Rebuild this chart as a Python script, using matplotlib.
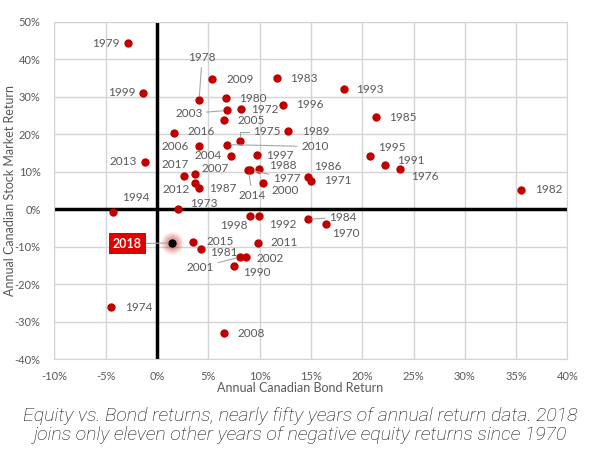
import matplotlib
matplotlib.use("Agg")
import matplotlib.pyplot as plt
import numpy as np

plt.rcParams['font.family'] = ['Lato', 'DejaVu Sans']

# Annual returns (%)
years = [1970, 1971, 1972, 1973, 1974, 1975, 1976, 1977, 1978, 1979,
         1980, 1981, 1982, 1983, 1984, 1985, 1986, 1987, 1988, 1989,
         1990, 1991, 1992, 1993, 1994, 1995, 1996, 1997, 1998, 1999,
         2000, 2001, 2002, 2003, 2004, 2005, 2006, 2007, 2008, 2009,
         2010, 2011, 2012, 2013, 2014, 2015, 2016, 2017, 2018]
bond_ret = [16.5, 15.0, 8.2, 2.0, -4.5, 8.1, 23.7, 9.1, 4.1, -2.8,
            6.7, 4.3, 35.5, 11.7, 14.7, 21.3, 14.7, 4.1, 9.9, 12.8,
            7.5, 22.2, 9.9, 18.2, -4.3, 20.8, 12.3, 9.7, 9.1, -1.4,
            10.3, 8.1, 8.7, 6.8, 7.2, 6.5, 4.1, 3.7, 6.5, 5.4,
            6.8, 9.8, 3.7, -1.2, 8.9, 3.5, 1.7, 2.6, 1.5]
stock_ret = [-3.9, 7.7, 26.8, 0.1, -26.1, 18.3, 10.7, 10.5, 29.2, 44.3,
             29.6, -10.5, 5.2, 35.0, -2.6, 24.7, 8.6, 5.8, 10.7, 20.9,
             -15.0, 11.8, -1.7, 32.1, -0.6, 14.3, 27.9, 14.5, -1.7, 31.1,
             7.0, -12.7, -12.7, 26.4, 14.3, 23.9, 16.9, 9.5, -33.0, 34.7,
             17.3, -8.9, 7.0, 12.7, 10.5, -8.6, 20.5, 8.9, -8.9]

x_ticks = [-10, -5, 0, 5, 10, 15, 20, 25, 30, 35, 40]
y_ticks = [-40, -30, -20, -10, 0, 10, 20, 30, 40, 50]

# label offsets in pixels from each dot (layout only)
label_offsets = {
    1970: (20, -9), 1971: (27, 0), 1972: (24, -1), 1973: (26, 6), 1974: (28, 0),
    1975: (27, 9), 1976: (25, -7), 1977: (36, -8), 1978: (3, 42), 1979: (-22, 0),
    1980: (27, 0), 1981: (23, -4), 1982: (27, 0), 1983: (27, 0), 1984: (35, 2),
    1985: (27, -1), 1986: (20, 11), 1987: (24, -1), 1988: (24, 4), 1989: (27, 0),
    1990: (23, -7), 1991: (26, 5), 1992: (24, -9), 1993: (26, 0), 1994: (23, 14),
    1995: (21, 8), 1996: (27, 0), 1997: (23, 0), 1998: (-17, -10), 1999: (-21, 0),
    2000: (22, -7), 2001: (-40, -10), 2002: (24, -1), 2003: (-38, -3), 2004: (-23, 0),
    2005: (27, -1), 2006: (-24, 0), 2007: (20, 5), 2008: (27, 0), 2009: (28, 0),
    2010: (88, -2), 2011: (27, 0), 2012: (-19, -6), 2013: (-22, 0), 2014: (4, -25),
    2015: (27, 0), 2016: (27, 1), 2017: (-9, 12),
}
leader_years = [1975, 1977, 1978, 1984, 2001, 2003, 2010, 2014]

fig = plt.figure(figsize=(6, 4.61), dpi=100)
ax = fig.add_axes([0.0907, 0.2202, 0.855, 0.7321])

ax.set_xlim(-10, 40)
ax.set_ylim(-40, 50)
ax.set_xticks(x_ticks)
ax.set_yticks(y_ticks)
ax.set_xticklabels([f"{t}%" for t in x_ticks])
ax.set_yticklabels([f"{t}%" for t in y_ticks])
ax.grid(True, color="#d4d4d4", lw=1)
ax.set_axisbelow(True)
for s in ax.spines.values():
    s.set_color("#d4d4d4")
ax.tick_params(length=0, labelsize=8, labelcolor="#595959")
ax.tick_params(axis='y', pad=10)
ax.tick_params(axis='x', pad=8)
ax.axhline(0, color="black", lw=2.5, zorder=1)
ax.axvline(0, color="black", lw=2.5, zorder=1)

i18 = years.index(2018)
others = [i for i in range(len(years)) if i != i18]
ax.scatter([bond_ret[i] for i in others], [stock_ret[i] for i in others],
           s=36, color="#c00000", zorder=3, linewidths=0)

# glow around 2018
for r, a in zip([260, 190, 130, 80], [0.08, 0.1, 0.12, 0.15]):
    ax.scatter(bond_ret[i18], stock_ret[i18], s=r, color="#c00000", alpha=a,
               linewidths=0, zorder=3)
ax.scatter(bond_ret[i18], stock_ret[i18], s=36, color="black", zorder=4, linewidths=0)

for i in others:
    y = years[i]
    dx, dy = label_offsets[y]
    props = None
    if y in leader_years:
        props = dict(arrowstyle="-", color="#a6a6a6", lw=0.8, shrinkA=1, shrinkB=3)
        if y == 1975:
            props["connectionstyle"] = "angle,angleA=0,angleB=90"
    ax.annotate(str(y), (bond_ret[i], stock_ret[i]), xytext=(dx, dy),
                textcoords="offset pixels", ha="center", va="center",
                fontsize=8.5, color="#595959", arrowprops=props, zorder=5)

ax.annotate("2018", (bond_ret[i18], stock_ret[i18]), xytext=(-45, -1),
            textcoords="offset pixels", ha="center", va="center",
            fontsize=9, fontweight="bold", color="white",
            bbox=dict(boxstyle="square,pad=0.35", fc="#e00000", ec="none"),
            arrowprops=dict(arrowstyle="-", color="#a6a6a6", lw=0.8, shrinkA=0, shrinkB=3),
            zorder=6)

fig.text(0.5, 1 - 388 / 461, "Annual Canadian Bond Return", ha="center", va="center",
         fontsize=9, color="#595959")
fig.text(10 / 600, 1 - 190 / 461, "Annual Canadian Stock Market Return", rotation=90,
         ha="center", va="center", fontsize=9, color="#595959")
fig.text(0.5, 1 - 425.5 / 461,
         "Equity vs. Bond returns, nearly fifty years of annual return data. 2018\n"
         "joins only eleven other years of negative equity returns since 1970",
         ha="center", va="center", fontsize=14, style="italic", fontweight="light",
         family=["Roboto", "DejaVu Sans"], color="#111111", linespacing=1.1)

fig.savefig("out.png", dpi=100)
